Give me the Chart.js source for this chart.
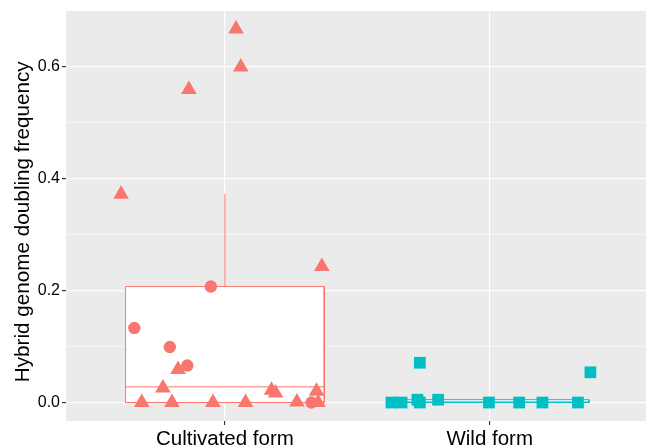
<!DOCTYPE html>
<html>
<head>
<meta charset="utf-8">
<script src="https://cdn.jsdelivr.net/npm/chart.js@4.4.1/dist/chart.umd.min.js"></script>
<style>
  body { margin: 0; background: #fff; }
  #wrap { width: 646px; height: 448px; }
</style>
</head>
<body>
<div id="wrap"><canvas id="chartHgd" width="646" height="448"></canvas></div>
<script>
const categories = ['Cultivated form', 'Wild form'];
const yTicks = [0.0, 0.2, 0.4, 0.6];

// cultivated form: triangles and circles, jitter is offset from the category centre
const cultTriJitter = [0.042, 0.060, -0.136, -0.392, 0.366, -0.177, -0.234, -0.314, -0.200, -0.045, 0.078, 0.176, 0.191, 0.272, 0.346, 0.352];
const cultTriValues = [0.667, 0.599, 0.559, 0.372, 0.243, 0.059, 0.026, 0, 0, 0, 0, 0.022, 0.017, 0.001, 0.020, 0];
const cultCircJitter = [-0.053, -0.342, -0.208, -0.142, 0.327];
const cultCircValues = [0.207, 0.133, 0.099, 0.066, 0];

// wild form: squares
const wildJitter = [-0.264, 0.380, -0.371, -0.333, -0.273, -0.264, -0.195, -0.003, 0.111, 0.199, 0.333];
const wildValues = [0.071, 0.054, 0, 0, 0.005, 0, 0.005, 0, 0, 0, 0];

// boxplot stats per category
const boxLow = [0, 0];
const boxQ1 = [0, 0];
const boxMedian = [0.028, 0.001];
const boxQ3 = [0.207, 0.005];
const boxHigh = [0.372, 0.005];

const colors = ['#F8766D', '#00BFC4'];
const halfBox = 0.375;
const fontFam = 'Liberation Sans, Arial, sans-serif';

const minorTicks = yTicks.slice(1).map((v, i) => (v + yTicks[i]) / 2);
const isMajor = v => yTicks.some(t => Math.abs(t - v) < 1e-9);

function pts(center, jitter, values) {
  return values.map((v, i) => ({ x: center + jitter[i], y: v }));
}

function boxSets(i) {
  const c = i + 1, col = colors[i];
  const line = { showLine: true, pointRadius: 0, borderColor: col, borderWidth: 1 };
  return [
    Object.assign({}, line, {
      data: [
        { x: c - halfBox, y: boxQ1[i] }, { x: c - halfBox, y: boxQ3[i] },
        { x: c + halfBox, y: boxQ3[i] }, { x: c + halfBox, y: boxQ1[i] },
        { x: c - halfBox, y: boxQ1[i] }
      ],
      fill: 'shape', backgroundColor: '#ffffff', order: 5
    }),
    Object.assign({}, line, {
      data: [{ x: c - halfBox, y: boxMedian[i] }, { x: c + halfBox, y: boxMedian[i] }], order: 4
    }),
    Object.assign({}, line, {
      data: [{ x: c, y: boxQ3[i] }, { x: c, y: boxHigh[i] }], order: 4
    }),
    Object.assign({}, line, {
      data: [{ x: c, y: boxLow[i] }, { x: c, y: boxQ1[i] }], order: 4
    })
  ];
}

const panelBg = {
  id: 'panelBg',
  beforeDraw(chart) {
    const a = chart.chartArea, c = chart.ctx;
    c.save();
    c.fillStyle = '#EBEBEB';
    c.fillRect(a.left, a.top, a.right - a.left, a.bottom - a.top);
    c.restore();
  }
};

const ctx = document.getElementById('chartHgd');

new Chart(ctx, {
  type: 'scatter',
  data: {
    datasets: [
      {
        data: pts(1, cultTriJitter, cultTriValues),
        pointStyle: 'triangle', pointRadius: 9, backgroundColor: colors[0], borderWidth: 0, order: 0
      },
      {
        data: pts(1, cultCircJitter, cultCircValues),
        pointStyle: 'circle', pointRadius: 6.2, backgroundColor: colors[0], borderWidth: 0, order: 0
      },
      {
        data: pts(2, wildJitter, wildValues),
        pointStyle: 'rect', pointRadius: 8.3, backgroundColor: colors[1], borderWidth: 0, order: 0
      },
      ...boxSets(0),
      ...boxSets(1)
    ]
  },
  plugins: [panelBg],
  options: {
    responsive: false,
    animation: false,
    events: [],
    layout: { autoPadding: false, padding: { top: 11, left: 0, right: 0, bottom: 0 } },
    plugins: {
      legend: { display: false },
      tooltip: { enabled: false }
    },
    scales: {
      x: {
        type: 'linear',
        min: 0.4,
        max: 2.59,
        afterBuildTicks: s => { s.ticks = categories.map((c, i) => ({ value: i + 1 })); },
        afterFit: s => { s.height = 27; s.paddingLeft = 0; s.paddingRight = 0; },
        border: { display: false },
        grid: { color: '#ffffff', lineWidth: 1.1, tickColor: '#333333', tickLength: 4 },
        ticks: {
          autoSkip: false,
          maxRotation: 0,
          padding: 2,
          color: '#000000',
          font: { family: fontFam, size: 20.5 },
          callback: v => categories[Math.round(v) - 1]
        }
      },
      y: {
        min: -0.033,
        max: 0.699,
        afterBuildTicks: s => {
          s.ticks = yTicks.concat(minorTicks).sort((a, b) => a - b).map(v => ({ value: v }));
        },
        afterFit: s => { s.width = 66; s.paddingTop = 0; s.paddingBottom = 0; },
        border: { display: false },
        grid: {
          color: '#ffffff',
          lineWidth: c => isMajor(c.tick.value) ? 1.2 : 0.6,
          tickColor: c => isMajor(c.tick.value) ? '#333333' : 'rgba(0,0,0,0)',
          tickLength: 4
        },
        ticks: {
          autoSkip: false,
          padding: 2,
          color: '#000000',
          font: { family: fontFam, size: 16 },
          callback: v => isMajor(v) ? v.toFixed(1) : ''
        },
        title: {
          display: true,
          text: 'Hybrid genome doubling frequency  ',
          color: '#000000',
          font: { family: fontFam, size: 20.7 },
          padding: { top: 11, bottom: 0 }
        }
      }
    }
  }
});
</script>
</body>
</html>
